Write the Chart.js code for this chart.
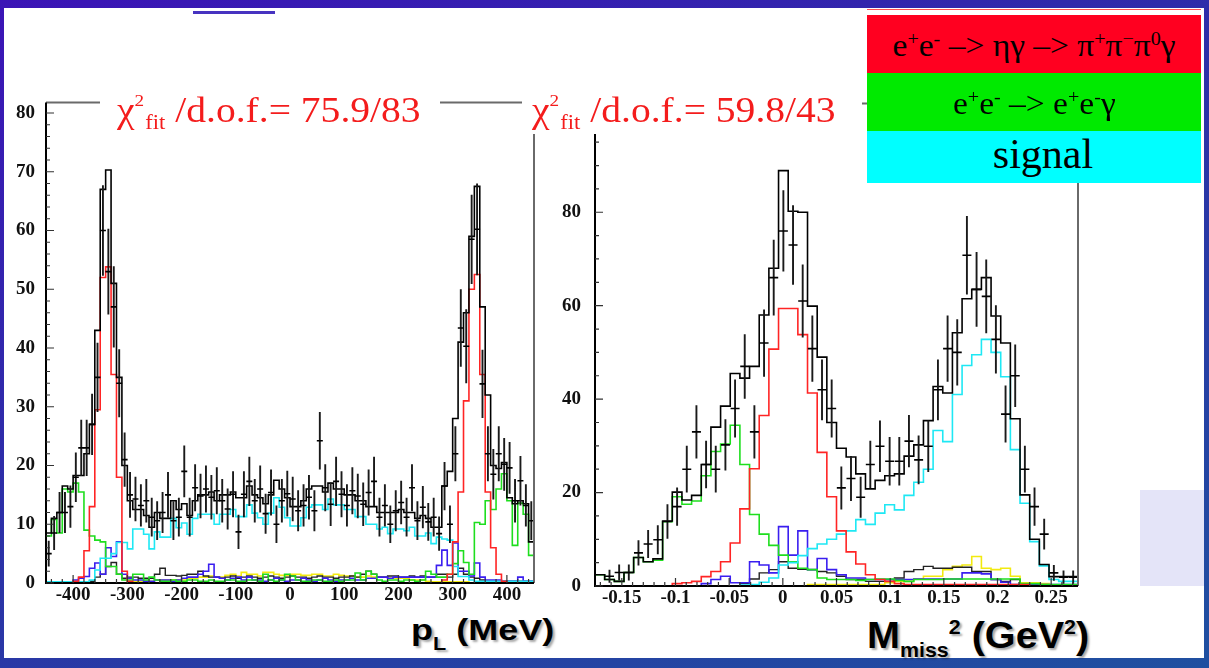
<!DOCTYPE html>
<html>
<head>
<meta charset="utf-8">
<script src="https://cdn.jsdelivr.net/npm/chart.js@4.4.1/dist/chart.umd.min.js"></script>
<style>
  html, body { margin: 0; padding: 0; }
  #slide { position: relative; width: 1209px; height: 668px; overflow: hidden;
    background: linear-gradient(160deg, #3b14b6 0%, #2d2fa8 45%, #1f50a0 100%); }
  #paper { position: absolute; left: 4px; top: 8px; width: 1200px; height: 650px; background: #fff; }
  canvas { position: absolute; }
  .chi { position: absolute; top: 80px; height: 54px; background: #fff; color: #f41c1c;
    font-family: "Liberation Serif", "Times New Roman", serif; font-size: 35px; line-height: 62px; white-space: nowrap; }
  .chi .in { display: inline-block; transform: scaleX(1.13); transform-origin: left center; }
  .chi .sup { font-size: 17px; position: relative; top: -16px; }
  .chi .sub { font-size: 20px; position: relative; top: 7px; margin-left: 1px; }
  .leg { position: absolute; left: 867px; width: 334px; text-align: center; color: #000;
    font-family: "Liberation Serif", "Times New Roman", serif; white-space: nowrap; }
  .leg .in { display: inline-block; transform: scaleX(1.08); }
  .leg sup { font-size: 60%; line-height: 0; }
  .title { position: absolute; font-family: "Liberation Sans", Arial, sans-serif; font-weight: bold; color: #000;
    white-space: nowrap; line-height: 1; transform-origin: left center; text-shadow: 2px 2px 2px rgba(0,0,0,0.35); }
  .title .lo { position: relative; }
</style>
</head>
<body>
<div id="slide">
  <div id="paper"></div>
  <div style="position:absolute;left:193px;top:11px;width:82px;height:3px;background:#4733c0"></div>
  <canvas id="pl" width="546" height="530" style="left:0px;top:80px"></canvas>
  <canvas id="mm" width="546" height="535" style="left:549px;top:78px"></canvas>

  <div class="chi" style="left:100px;width:340px;padding-left:17px;box-sizing:border-box">
    <span class="in">χ<span class="sup">2</span><span class="sub">fit</span> /d.o.f.= 75.9/83</span></div>
  <div class="chi" style="left:522px;width:340px;padding-left:10px;box-sizing:border-box">
    <span class="in">χ<span class="sup">2</span><span class="sub">fit</span> /d.o.f.= 59.8/43</span></div>

  <div style="position:absolute;left:867px;top:9px;width:334px;height:1px;background:#ff5050"></div>
  <div class="leg" style="top:15px;height:58px;background:#ff0020;font-size:31px;line-height:62px"><span class="in">e<sup>+</sup>e<sup>-</sup> –&gt; ηγ –&gt; π<sup>+</sup>π<sup>−</sup>π<sup>0</sup>γ</span></div>
  <div class="leg" style="top:73px;height:58px;background:#00ea00;font-size:31px;line-height:62px"><span class="in">e<sup>+</sup>e<sup>-</sup> –&gt; e<sup>+</sup>e<sup>-</sup>γ</span></div>
  <div class="leg" style="top:131px;height:52px;background:#00ffff;font-size:42px;line-height:46px;padding-left:18px;box-sizing:border-box">signal</div>

  <div style="position:absolute;left:1140px;top:490px;width:64px;height:96px;background:#e4e4f8"></div>

  <div class="title" style="left:411px;top:615px;font-size:30px;transform:scaleX(1.2)">p<span class="lo" style="font-size:18px;top:10px">L</span> (MeV)</div>
  <div class="title" style="left:867px;top:617px;font-size:37px;transform:scaleX(1.07)">M<span class="lo" style="font-size:20px;top:9px">miss</span><span class="lo" style="font-size:20px;top:-14px">2</span> (GeV<span class="lo" style="font-size:20px;top:-14px">2</span>)</div>
</div>

<script>
// ---- p_L panel (MeV), 90 bins of 10 MeV from -450
const pLLo = -450, pLBin = 10;
const pLXTicks = [-400, -300, -200, -100, 0, 100, 200, 300, 400];
const pLYTicks = [0, 10, 20, 30, 40, 50, 60, 70, 80];

const pLData = [
  5, 8.5, 12, 12, 13, 18, 23, 23, 27, 35,
  60, 53, 47, 34, 21, 15, 14.3, 13.2, 14, 11.2,
  10.6, 12, 15, 10.6, 11.2, 19, 11.2, 16.2, 14.8, 16,
  14.6, 15.7, 14, 12.6, 15.1, 8.7, 15.1, 17.3, 14, 16,
  11.8, 15.4, 10, 14, 15.2, 14.3, 12.3, 13.2, 14.6, 12.3,
  24.2, 16.2, 13.4, 17.3, 15.1, 13.2, 15.7, 14.8, 13.4, 15.4,
  17.3, 11.2, 13.2, 10, 12.3, 13.7, 11.2, 16.2, 10.6, 12.9,
  10.4, 11.2, 8.4, 16.5, 10, 22, 43.4, 40.3, 58.5, 60.2,
  33.9, 22, 18.5, 22, 20.2, 19.6, 14, 17.4, 13.2, 10.6
];
const pLErr = [
  2.2, 2.9, 3.5, 3.5, 3.6, 4.2, 4.8, 4.8, 5.2, 5.9,
  7.7, 7.3, 6.9, 5.8, 4.6, 3.9, 3.8, 3.6, 3.7, 3.3,
  3.3, 3.5, 3.9, 3.3, 3.3, 4.4, 3.3, 4, 3.8, 4,
  3.8, 4, 3.7, 3.5, 3.9, 2.9, 3.9, 4.2, 3.7, 4,
  3.4, 3.9, 3.2, 3.7, 3.9, 3.8, 3.5, 3.6, 3.8, 3.5,
  4.9, 4, 3.7, 4.2, 3.9, 3.6, 4, 3.8, 3.7, 3.9,
  4.2, 3.3, 3.6, 3.2, 3.5, 3.7, 3.3, 4, 3.3, 3.6,
  3.2, 3.3, 2.9, 4.1, 3.2, 4.7, 6.6, 6.3, 7.6, 7.8,
  5.8, 4.7, 4.3, 4.7, 4.5, 4.4, 3.7, 4.2, 3.6, 3.3
];
const pLTotal = [
  8.5, 11, 12, 16.5, 16, 18.3, 18.3, 22, 27, 43,
  67, 70.3, 51, 35, 20, 14, 12.5, 12.5, 11.5, 9.5,
  12, 11, 11, 14, 12.5, 13.5, 11.5, 14, 15, 15,
  15.5, 14, 15, 15, 15.5, 14.5, 14.5, 16.5, 15, 14.5,
  13.5, 15, 17.5, 16, 14.5, 13, 13, 14, 16, 16.5,
  16.5, 15.5, 17, 16, 16, 15, 15, 14, 14, 13,
  13, 12, 12, 12, 12, 12.5, 12, 12, 11, 11.5,
  11, 9.5, 9.5, 16.5, 19, 28, 41, 46, 59, 67.5,
  47, 32, 20, 19.5, 20.5, 14.5, 13.5, 14, 13.5, 7
];
const pLRed = [
  0, 0, 0, 0, 0, 0.3, 1, 5.5, 13, 29.5,
  52, 53.8, 35.5, 18, 2, 0.3, 0, 0, 0, 0,
  0, 0, 0, 0, 0, 0, 0, 0, 0, 0,
  0, 0, 0, 0, 0, 0, 0, 0, 0, 0,
  0, 0, 0, 0, 0, 0, 0, 0, 0, 0,
  0, 0, 0, 0, 0, 0, 0, 0, 0, 0,
  0, 0, 0, 0, 0, 0, 0, 0, 0, 0,
  0, 0, 0, 0.5, 1.5, 7, 15.5, 31, 50, 52.5,
  35.5, 15.5, 6, 1.5, 0.3, 0, 0, 0, 0, 0
];
const pLGreen = [
  8, 10.8, 8.5, 16, 15.5, 17, 15.5, 9, 8, 7.3,
  7, 2.8, 2.8, 1.5, 0.5, 0.5, 1.5, 1.5, 0.5, 1,
  0.5, 0.3, 0.3, 0.5, 0.3, 0.3, 0.5, 0.5, 0.3, 0.3,
  0.5, 0.3, 0.3, 0.5, 0.5, 0.3, 0.3, 0.5, 0.5, 0.3,
  1.5, 0.5, 0.3, 0.5, 1.5, 1.2, 0.5, 0.3, 0.3, 0.5,
  0.5, 0.3, 0.3, 0.5, 0.3, 0.5, 0.5, 1.7, 0.5, 2,
  1.5, 0.5, 0.3, 0.5, 0.5, 0.3, 0.5, 0.5, 0.3, 0.5,
  2, 1.5, 1, 1, 1.5, 3.3, 5.5, 3.5, 1.5, 10.3,
  10, 14, 12.5, 16, 18.6, 14, 6.4, 13.6, 11.7, 4.7
];
const pLCyan = [
  0.2, 0.2, 0.2, 0.2, 0.2, 0.2, 0.2, 0.2, 0.5, 2.2,
  4.2, 4.2, 5, 6.9, 6.9, 5.8, 9.2, 9.2, 8.3, 5.8,
  8.7, 7.8, 7.8, 11, 9.4, 10.2, 8.3, 11, 11.7, 11.7,
  11.7, 10, 11.7, 11.7, 12.5, 11.3, 11.3, 13.3, 11.9, 11.1,
  10, 11.9, 14.5, 12.9, 11.1, 9.7, 9.7, 11.1, 12.9, 13.3,
  13.3, 12.5, 14.3, 13.3, 13.3, 12.5, 12.5, 11.3, 11.3, 10,
  10, 9.2, 9.5, 8.4, 9.2, 9.2, 8.9, 9.5, 8, 8,
  8.5, 6.7, 7.8, 7.5, 7.3, 2.8, 1.1, 1.1, 0.5, 0.3,
  0.3, 0.3, 0.3, 0.3, 0.3, 0.3, 0.3, 0.3, 0.3, 0.3
];
const pLBlue = [
  0, 0, 0, 0, 0, 0.5, 0.8, 1.1, 2.5, 3.4,
  1.5, 6, 4.5, 7, 1.5, 0.8, 0.5, 0.5, 0.3, 0.3,
  0.5, 0.5, 0.5, 0.3, 0.5, 0.8, 1, 1, 1.5, 2,
  3.2, 1, 0.8, 0.5, 0.8, 1, 0.5, 1, 0.5, 0.5,
  0.3, 0.5, 0.8, 0.5, 0.3, 0.5, 0.5, 0.8, 0.5, 0.3,
  0.5, 0.8, 0.5, 0.3, 0.5, 0.5, 0.8, 0.5, 0.5, 0.8,
  0.8, 1, 1, 0.8, 1, 1, 1, 1, 1, 1,
  1, 1, 3, 5.6, 3, 6.8, 2, 2, 1.2, 3.4,
  1, 0.5, 0.5, 0.5, 0.3, 0.3, 0.3, 1, 0.3, 0.3
];
const pLDark = [
  0, 0, 0, 0, 0, 0, 0, 0, 0.3, 1,
  1.5, 2.8, 3.5, 1.5, 0.8, 1, 1, 0.8, 0.8, 0.8,
  1.5, 2.5, 1.3, 1.3, 1.2, 1.3, 1.5, 1.5, 2, 1.2,
  1, 1, 0.8, 1, 1.2, 0.8, 1, 1.2, 1, 0.8,
  1, 1.2, 1, 0.8, 1, 1.2, 1, 1, 0.8, 1,
  1.2, 1, 1, 0.8, 1, 1, 1.2, 1, 1.5, 2,
  1.5, 1, 1, 1.2, 1.2, 1, 1, 1.2, 1, 1.2,
  1, 1, 1.5, 1.5, 1, 1.5, 2.5, 1.5, 1, 0.8,
  0.5, 0.3, 0.3, 0.3, 0.3, 0.3, 0.3, 0.3, 0.3, 0.3
];
const pLYellow = [
  0, 0, 0, 0, 0, 0, 0, 0, 0, 0,
  0, 0, 0, 0, 0, 0.2, 0.2, 0.2, 0.3, 0.3,
  0.5, 0.5, 0.5, 0.5, 0.5, 0.5, 0.8, 0.8, 1, 1,
  1.2, 1, 1, 1.3, 1.5, 1.2, 1.8, 1.5, 1.5, 1.2,
  1.8, 1.8, 1.5, 1.3, 1.3, 1.5, 1.5, 1.3, 1.3, 1.5,
  1.5, 1.2, 1.2, 1.5, 1.3, 1.2, 1.2, 1, 1, 1.2,
  1, 1, 1, 0.8, 0.8, 0.8, 0.8, 0.5, 0.5, 0.5,
  0.3, 0.2, 0.2, 0.2, 0.2, 0.2, 0.2, 0.2, 0, 0,
  0, 0, 0, 0, 0, 0, 0, 0, 0, 0
];

// ---- M_miss^2 panel (GeV^2), 50 bins of 0.009 from -0.175
const mmLo = -0.175, mmBin = 0.009;
const mmXTicks = [-0.15, -0.1, -0.05, 0, 0.05, 0.1, 0.15, 0.2, 0.25];
const mmYTicks = [0, 20, 40, 60, 80];

const mmData = [
  null, 2.1, 2.9, 2.9, 7.1, 9, 9.9, 13.8, 17, 25,
  33, 26, 25, 30.2, 38, 47, 33, 52, 66, 76,
  73, 61, 50.8, 42, 38, 21, 23, 19, 26, 29.9,
  26.7, 26.7, 31, 27, 29.9, 42, 50.8, 50, 70.8, 63.5,
  62, 52.8, 36.8, 45, 25, 17, 11.1, 2.8, 1.9, 1.9
];
const mmErr = [
  0, 1.4, 1.7, 1.7, 2.7, 3, 3.1, 3.7, 4.1, 5,
  5.7, 5.1, 5, 5.5, 6.2, 6.9, 5.7, 7.2, 8.1, 8.7,
  8.5, 7.8, 7.1, 6.5, 6.2, 4.6, 4.8, 4.4, 5.1, 5.5,
  5.2, 5.2, 5.6, 5.2, 5.5, 6.5, 7.1, 7.1, 8.4, 8,
  7.9, 7.3, 6.1, 6.7, 5, 4.1, 3.3, 1.7, 1.4, 1.4
];
const mmTotal = [
  2.4, 1.4, 1, 2.9, 6.1, 5.2, 5.8, 13.9, 20.1, 18.4,
  19.4, 26, 34, 38.5, 45.5, 44.5, 47, 58, 68, 88.9,
  80.2, 80, 59.9, 49, 35, 29.5, 27.6, 24, 20.8, 22.6,
  23.6, 24, 27.8, 30.2, 35.4, 42.7, 41.3, 54.2, 61.5, 63.5,
  66, 57.8, 52, 35.8, 19.5, 10, 4.6, 2, 2, 2
];
const mmRed = [
  0, 0, 0, 0, 0, 0, 0, 0, 0.5, 0.7,
  1, 2, 3.1, 5.2, 9.2, 16.5, 25.1, 36.5, 50.7, 59.4,
  59.4, 53.8, 41.3, 28.6, 19.1, 11.8, 7.3, 4.7, 2.4, 1.4,
  1, 0.5, 0.3, 0.3, 0.3, 0.3, 0.3, 0.3, 0.3, 0.3,
  0.3, 0.3, 0.3, 0.3, 0.3, 0, 0, 0, 0, 0
];
const mmGreen = [
  2.4, 1.4, 1, 2.9, 6.1, 5.2, 5.5, 13.75, 19.1, 17.5,
  18.2, 23.6, 28.8, 30.4, 34.4, 26, 15.3, 11.1, 8.7, 6.6,
  5.2, 3.8, 3.5, 1.7, 1.4, 1.4, 1.4, 1.2, 1.4, 1.5,
  1.5, 1.2, 1, 1.4, 1.4, 1.4, 1.5, 1.5, 1.5, 1.5,
  1.5, 1.5, 1.5, 1.5, 0.5, 0.5, 0.3, 0.3, 0.3, 0.3
];
const mmCyan = [
  0, 0, 0, 0, 0, 0, 0, 0, 0, 0,
  0, 0, 0, 0, 0, 0.2, 0.3, 0.8, 1.7, 4.5,
  5, 6.5, 8, 9, 10, 11.1, 11.8, 14.2, 13.2, 15.6,
  17.4, 16.3, 19.4, 22.2, 25, 33.3, 30.9, 41, 47.2, 49.5,
  52.8, 50, 44.8, 29.2, 17.7, 9.5, 4.3, 1.4, 1, 1
];
const mmBlue = [
  0, 0, 0, 0, 0, 0, 0, 0, 0, 0,
  0, 0.5, 1.4, 2.1, 0.7, 0.7, 5.2, 4.5, 2.8, 12.7,
  6.6, 11.8, 3.5, 5.9, 3.5, 2.4, 1.7, 1.7, 1.4, 1.4,
  1.4, 1.4, 1.4, 1.5, 1.5, 1.5, 1.5, 1.5, 2.8, 2.8,
  2.6, 1.4, 0.8, 0.3, 0.3, 0.3, 0.3, 0.3, 0.3, 0.3
];
const mmYellow = [
  0, 0, 0, 0, 0, 0, 0, 0, 0, 0,
  0, 0, 0, 0, 0, 0, 0, 0, 0, 0,
  0, 0, 0.3, 0.3, 0.3, 0.3, 0.3, 0.3, 0.3, 0.3,
  0.7, 1, 1, 1.5, 2.1, 2.1, 3.5, 4.2, 4.5, 6.3,
  3.8, 3.5, 3.8, 2.1, 0.7, 0.7, 0.5, 0, 0, 0
];
const mmDark = [
  0, 0, 0, 0, 0, 0, 0, 0, 0, 0,
  0, 0, 0, 0, 0, 0.5, 1.5, 2.8, 3.5, 5.2,
  3.8, 3.6, 3.5, 3.1, 2.8, 2.1, 1.4, 1.4, 1, 1,
  1, 1.7, 3.1, 3.5, 4.2, 3.8, 3.8, 4, 4, 3.1,
  3.1, 1.4, 1, 1.4, 0.5, 0.5, 0.3, 0.3, 0.3, 0.3
];

const colors = { red: '#ff2424', green: '#1ede1e', cyan: '#1ee8f4', blue: '#3a1ef0', yellow: '#f2ea10', dark: '#222', total: '#000' };

// histogram as a step line through the bin edges
function histSet(lo, w, vals, color, width) {
  const pts = vals.map((v, i) => ({ x: lo + i * w, y: v }));
  pts.push({ x: lo + vals.length * w, y: vals[vals.length - 1] });
  return { data: pts, borderColor: color, borderWidth: width, stepped: 'before', pointRadius: 0, fill: false };
}

// data points: short horizontal marks + vertical error bars
function dataSets(lo, w, vals, errs, r) {
  const bars = [], marks = [];
  vals.forEach((v, i) => {
    if (v === null) return;
    const c = lo + (i + 0.5) * w;
    bars.push({ x: c, y: v - errs[i] }, { x: c, y: v + errs[i] }, { x: c, y: null });
    marks.push({ x: c, y: v });
  });
  return [
    { data: marks, showLine: false, pointStyle: 'line', pointRadius: r, pointBorderColor: '#000', pointBorderWidth: 1.6, borderColor: '#000' },
    { data: bars, borderColor: '#1a1a1a', borderWidth: 1.9, pointRadius: 0, spanGaps: false }
  ];
}

// ROOT-like frame: grey top/right, black axes, inward ticks
const rootAxes = {
  id: 'rootAxes',
  afterDatasetsDraw(chart, args, o) {
    const { ctx, chartArea: a, scales: { x, y } } = chart;
    ctx.save();
    ctx.lineCap = 'butt';
    ctx.strokeStyle = '#6a6a6a';
    ctx.lineWidth = 2;
    ctx.beginPath();
    ctx.moveTo(a.left, a.top); ctx.lineTo(a.right, a.top); ctx.lineTo(a.right, a.bottom);
    ctx.stroke();
    ctx.strokeStyle = '#000';
    ctx.beginPath();
    ctx.moveTo(a.left, a.top); ctx.lineTo(a.left, a.bottom); ctx.lineTo(a.right, a.bottom);
    ctx.stroke();
    ctx.lineWidth = 1.2;
    ctx.strokeStyle = '#333';
    ctx.beginPath();
    for (let n = Math.ceil(x.min / o.xMinor - 1e-6); n * o.xMinor <= x.max + 1e-9; n++) {
      const v = n * o.xMinor;
      const major = o.xTicks.some(t => Math.abs(t - v) < o.xMinor / 10);
      const px = x.getPixelForValue(v);
      ctx.moveTo(px, a.bottom); ctx.lineTo(px, a.bottom - (major ? 8 : 4));
    }
    for (let n = 0; n * o.yMinor <= y.max + 1e-9; n++) {
      const v = n * o.yMinor;
      const major = o.yTicks.some(t => Math.abs(t - v) < o.yMinor / 10);
      const py = y.getPixelForValue(v);
      ctx.moveTo(a.left, py); ctx.lineTo(a.left + (major ? 8 : 4), py);
    }
    ctx.stroke();
    ctx.restore();
  }
};

function panelOptions(xMin, xMax, yMax, xTicks, yTicks, xMinor, yMinor, yPad, padRight) {
  const font = size => ({ family: '"Liberation Serif", "Times New Roman", serif', size: size, weight: 'bold' });
  return {
    responsive: false,
    animation: false,
    events: [],
    layout: { padding: { top: 12, right: padRight, left: 0, bottom: 0 } },
    plugins: { legend: { display: false }, tooltip: { enabled: false },
      rootAxes: { xTicks, yTicks, xMinor, yMinor } },
    scales: {
      x: {
        type: 'linear', min: xMin, max: xMax,
        afterBuildTicks: s => { s.ticks = xTicks.map(v => ({ value: v })); },
        afterFit: s => { s.height = 27; },
        grid: { display: false, drawTicks: false }, border: { display: false },
        ticks: { font: font(19), color: '#111', padding: 1, maxRotation: 0, autoSkip: false, callback: v => String(v) }
      },
      y: {
        type: 'linear', min: 0, max: yMax,
        afterBuildTicks: s => { s.ticks = yTicks.map(v => ({ value: v })); },
        afterFit: s => { s.width = 46; },
        grid: { display: false, drawTicks: false }, border: { display: false },
        ticks: { font: font(19), color: '#111', padding: yPad, callback: v => String(v) }
      }
    }
  };
}

new Chart(document.getElementById('pl'), {
  type: 'line',
  data: { datasets: [
    ...dataSets(pLLo, pLBin, pLData, pLErr, 3),
    histSet(pLLo, pLBin, pLTotal, colors.total, 1.6),
    histSet(pLLo, pLBin, pLRed, colors.red, 1.6),
    histSet(pLLo, pLBin, pLCyan, colors.cyan, 1.6),
    histSet(pLLo, pLBin, pLGreen, colors.green, 1.6),
    histSet(pLLo, pLBin, pLBlue, colors.blue, 1.6),
    histSet(pLLo, pLBin, pLDark, colors.dark, 1.4),
    histSet(pLLo, pLBin, pLYellow, colors.yellow, 1.6)
  ] },
  options: panelOptions(-450, 450, 81.8, pLXTicks, pLYTicks, 20, 2, 11, 12),
  plugins: [rootAxes]
});

new Chart(document.getElementById('mm'), {
  type: 'line',
  data: { datasets: [
    ...dataSets(mmLo, mmBin, mmData, mmErr, 4.5),
    histSet(mmLo, mmBin, mmTotal, colors.total, 1.6),
    histSet(mmLo, mmBin, mmRed, colors.red, 1.6),
    histSet(mmLo, mmBin, mmCyan, colors.cyan, 1.6),
    histSet(mmLo, mmBin, mmGreen, colors.green, 1.6),
    histSet(mmLo, mmBin, mmBlue, colors.blue, 1.6),
    histSet(mmLo, mmBin, mmDark, colors.dark, 1.4),
    histSet(mmLo, mmBin, mmYellow, colors.yellow, 1.6)
  ] },
  options: panelOptions(-0.175, 0.275, 103.3, mmXTicks, mmYTicks, 0.01, 5, 14, 17),
  plugins: [rootAxes]
});
</script>
</body>
</html>
